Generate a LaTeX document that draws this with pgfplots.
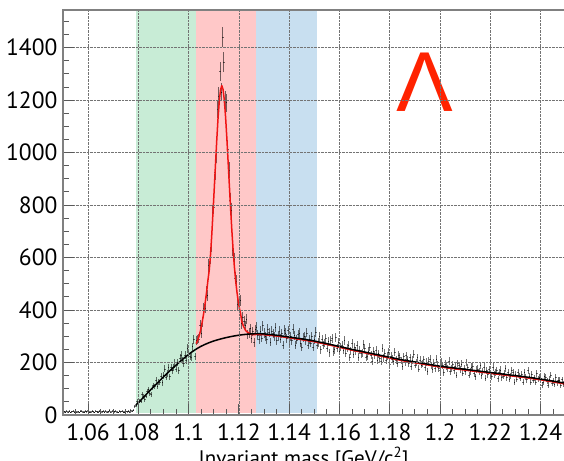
\documentclass[border=0pt]{standalone}
\usepackage{pgfplots}
\usepackage{pgfplotstable}
\usepackage{fontspec}
\pgfplotsset{compat=1.18}
\newfontfamily\ptsans{PT Sans}
\newfontfamily\lsans{Liberation Sans}

\definecolor{bandgreen}{RGB}{200,236,214}
\definecolor{bandred}{RGB}{255,200,200}
\definecolor{bandblue}{RGB}{200,223,240}
\definecolor{fitred}{RGB}{240,20,20}
\definecolor{lamred}{RGB}{255,34,0}

% p pi- invariant mass histogram, 0.5 MeV bins: bin centre, counts
\pgfplotstableread[row sep=\\]{
m n \\
1.0505 13 \\ 1.0510 11 \\ 1.0515 14 \\ 1.0520 12 \\ 1.0525 15 \\ 1.0530 10 \\ 1.0535 13 \\ 1.0540 14 \\
1.0545 11 \\ 1.0550 16 \\ 1.0555 12 \\ 1.0560 13 \\ 1.0565 10 \\ 1.0570 14 \\ 1.0575 15 \\ 1.0580 12 \\
1.0585 11 \\ 1.0590 14 \\ 1.0595 13 \\ 1.0600 17 \\ 1.0605 12 \\ 1.0610 11 \\ 1.0615 14 \\ 1.0620 13 \\
1.0625 10 \\ 1.0630 15 \\ 1.0635 13 \\ 1.0640 12 \\ 1.0645 16 \\ 1.0650 11 \\ 1.0655 13 \\ 1.0660 14 \\
1.0665 12 \\ 1.0670 15 \\ 1.0675 11 \\ 1.0680 13 \\ 1.0685 17 \\ 1.0690 12 \\ 1.0695 14 \\ 1.0700 11 \\
1.0705 13 \\ 1.0710 15 \\ 1.0715 12 \\ 1.0720 10 \\ 1.0725 14 \\ 1.0730 13 \\ 1.0735 16 \\ 1.0740 12 \\
1.0745 11 \\ 1.0750 14 \\ 1.0755 13 \\ 1.0760 15 \\ 1.0765 12 \\ 1.0770 17 \\ 1.0775 14 \\ 1.0780 19 \\
1.0785 32 \\ 1.0790 36 \\ 1.0795 52 \\ 1.0800 39 \\ 1.0805 53 \\ 1.0810 52 \\ 1.0815 77 \\ 1.0820 71 \\
1.0825 59 \\ 1.0830 73 \\ 1.0835 90 \\ 1.0840 98 \\ 1.0845 83 \\ 1.0850 79 \\ 1.0855 105 \\ 1.0860 113 \\
1.0865 109 \\ 1.0870 133 \\ 1.0875 108 \\ 1.0880 127 \\ 1.0885 124 \\ 1.0890 147 \\ 1.0895 123 \\ 1.0900 150 \\
1.0905 176 \\ 1.0910 144 \\ 1.0915 158 \\ 1.0920 180 \\ 1.0925 146 \\ 1.0930 181 \\ 1.0935 170 \\ 1.0940 181 \\
1.0945 201 \\ 1.0950 176 \\ 1.0955 201 \\ 1.0960 170 \\ 1.0965 216 \\ 1.0970 229 \\ 1.0975 207 \\ 1.0980 196 \\
1.0985 228 \\ 1.0990 210 \\ 1.0995 254 \\ 1.1000 234 \\ 1.1005 225 \\ 1.1010 221 \\ 1.1015 260 \\ 1.1020 288 \\
1.1025 223 \\ 1.1030 285 \\ 1.1035 287 \\ 1.1040 290 \\ 1.1045 343 \\ 1.1050 312 \\ 1.1055 355 \\ 1.1060 408 \\
1.1065 407 \\ 1.1070 468 \\ 1.1075 456 \\ 1.1080 570 \\ 1.1085 601 \\ 1.1090 646 \\ 1.1095 773 \\ 1.1100 793 \\
1.1105 925 \\ 1.1110 992 \\ 1.1115 1166 \\ 1.1120 1215 \\ 1.1125 1310 \\ 1.1130 1230 \\ 1.1135 1440 \\ 1.1140 1345 \\
1.1145 1200 \\ 1.1150 1190 \\ 1.1155 1014 \\ 1.1160 932 \\ 1.1165 818 \\ 1.1170 781 \\ 1.1175 629 \\ 1.1180 594 \\
1.1185 521 \\ 1.1190 510 \\ 1.1195 420 \\ 1.1200 426 \\ 1.1205 437 \\ 1.1210 348 \\ 1.1215 372 \\ 1.1220 358 \\
1.1225 340 \\ 1.1230 365 \\ 1.1235 306 \\ 1.1240 312 \\ 1.1245 330 \\ 1.1250 292 \\ 1.1255 318 \\ 1.1260 276 \\
1.1265 326 \\ 1.1270 336 \\ 1.1275 305 \\ 1.1280 287 \\ 1.1285 320 \\ 1.1290 294 \\ 1.1295 340 \\ 1.1300 312 \\
1.1305 298 \\ 1.1310 289 \\ 1.1315 328 \\ 1.1320 314 \\ 1.1325 278 \\ 1.1330 320 \\ 1.1335 310 \\ 1.1340 298 \\
1.1345 334 \\ 1.1350 283 \\ 1.1355 300 \\ 1.1360 320 \\ 1.1365 290 \\ 1.1370 310 \\ 1.1375 267 \\ 1.1380 324 \\
1.1385 313 \\ 1.1390 293 \\ 1.1395 322 \\ 1.1400 278 \\ 1.1405 299 \\ 1.1410 284 \\ 1.1415 328 \\ 1.1420 303 \\
1.1425 267 \\ 1.1430 286 \\ 1.1435 307 \\ 1.1440 312 \\ 1.1445 275 \\ 1.1450 259 \\ 1.1455 294 \\ 1.1460 298 \\
1.1465 284 \\ 1.1470 313 \\ 1.1475 266 \\ 1.1480 287 \\ 1.1485 274 \\ 1.1490 300 \\ 1.1495 259 \\ 1.1500 289 \\
1.1505 316 \\ 1.1510 267 \\ 1.1515 277 \\ 1.1520 300 \\ 1.1525 249 \\ 1.1530 288 \\ 1.1535 267 \\ 1.1540 274 \\
1.1545 291 \\ 1.1550 256 \\ 1.1555 279 \\ 1.1560 237 \\ 1.1565 284 \\ 1.1570 293 \\ 1.1575 242 \\ 1.1580 250 \\
1.1585 297 \\ 1.1590 255 \\ 1.1595 278 \\ 1.1600 243 \\ 1.1605 260 \\ 1.1610 267 \\ 1.1615 247 \\ 1.1620 284 \\
1.1625 235 \\ 1.1630 256 \\ 1.1635 266 \\ 1.1640 219 \\ 1.1645 245 \\ 1.1650 272 \\ 1.1655 233 \\ 1.1660 257 \\
1.1665 245 \\ 1.1670 265 \\ 1.1675 220 \\ 1.1680 247 \\ 1.1685 234 \\ 1.1690 237 \\ 1.1695 269 \\ 1.1700 254 \\
1.1705 220 \\ 1.1710 224 \\ 1.1715 243 \\ 1.1720 259 \\ 1.1725 227 \\ 1.1730 205 \\ 1.1735 244 \\ 1.1740 229 \\
1.1745 248 \\ 1.1750 209 \\ 1.1755 234 \\ 1.1760 216 \\ 1.1765 206 \\ 1.1770 255 \\ 1.1775 218 \\ 1.1780 235 \\
1.1785 208 \\ 1.1790 225 \\ 1.1795 239 \\ 1.1800 195 \\ 1.1805 225 \\ 1.1810 213 \\ 1.1815 205 \\ 1.1820 240 \\
1.1825 209 \\ 1.1830 196 \\ 1.1835 229 \\ 1.1840 221 \\ 1.1845 208 \\ 1.1850 184 \\ 1.1855 222 \\ 1.1860 199 \\
1.1865 226 \\ 1.1870 211 \\ 1.1875 197 \\ 1.1880 219 \\ 1.1885 184 \\ 1.1890 209 \\ 1.1895 233 \\ 1.1900 191 \\
1.1905 200 \\ 1.1910 218 \\ 1.1915 176 \\ 1.1920 209 \\ 1.1925 191 \\ 1.1930 197 \\ 1.1935 212 \\ 1.1940 182 \\
1.1945 202 \\ 1.1950 166 \\ 1.1955 205 \\ 1.1960 213 \\ 1.1965 188 \\ 1.1970 173 \\ 1.1975 198 \\ 1.1980 177 \\
1.1985 213 \\ 1.1990 191 \\ 1.1995 179 \\ 1.2000 171 \\ 1.2005 202 \\ 1.2010 190 \\ 1.2015 162 \\ 1.2020 194 \\
1.2025 187 \\ 1.2030 177 \\ 1.2035 205 \\ 1.2040 165 \\ 1.2045 178 \\ 1.2050 193 \\ 1.2055 170 \\ 1.2060 186 \\
1.2065 153 \\ 1.2070 196 \\ 1.2075 188 \\ 1.2080 173 \\ 1.2085 195 \\ 1.2090 160 \\ 1.2095 177 \\ 1.2100 165 \\
1.2105 199 \\ 1.2110 180 \\ 1.2115 152 \\ 1.2120 166 \\ 1.2125 183 \\ 1.2130 186 \\ 1.2135 158 \\ 1.2140 146 \\
1.2145 172 \\ 1.2150 176 \\ 1.2155 165 \\ 1.2160 188 \\ 1.2165 150 \\ 1.2170 167 \\ 1.2175 183 \\ 1.2180 140 \\
1.2185 170 \\ 1.2190 154 \\ 1.2195 175 \\ 1.2200 159 \\ 1.2205 146 \\ 1.2210 183 \\ 1.2215 155 \\ 1.2220 163 \\
1.2225 169 \\ 1.2230 138 \\ 1.2235 163 \\ 1.2240 172 \\ 1.2245 143 \\ 1.2250 149 \\ 1.2255 158 \\ 1.2260 177 \\
1.2265 143 \\ 1.2270 161 \\ 1.2275 137 \\ 1.2280 149 \\ 1.2285 170 \\ 1.2290 162 \\ 1.2295 126 \\ 1.2300 156 \\
1.2305 137 \\ 1.2310 162 \\ 1.2315 148 \\ 1.2320 141 \\ 1.2325 155 \\ 1.2330 126 \\ 1.2335 162 \\ 1.2340 144 \\
1.2345 135 \\ 1.2350 169 \\ 1.2355 148 \\ 1.2360 126 \\ 1.2365 154 \\ 1.2370 134 \\ 1.2375 142 \\ 1.2380 126 \\
1.2385 158 \\ 1.2390 136 \\ 1.2395 145 \\ 1.2400 141 \\ 1.2405 115 \\ 1.2410 124 \\ 1.2415 148 \\ 1.2420 144 \\
1.2425 128 \\ 1.2430 115 \\ 1.2435 137 \\ 1.2440 152 \\ 1.2445 122 \\ 1.2450 131 \\ 1.2455 116 \\ 1.2460 143 \\
1.2465 123 \\ 1.2470 134 \\ 1.2475 132 \\ 1.2480 114 \\ 1.2485 135 \\ 1.2490 118 \\ 1.2495 125 \\
}\masshist

\begin{document}
\begin{tikzpicture}
% fixed page frame: 564 x 460
\useasboundingbox (0,0) rectangle (564pt,460pt);
\begin{axis}[
  at={(62.9pt,45pt)}, anchor=south west,
  scale only axis, width=502.8pt, height=405pt,
  xmin=1.05, xmax=1.25, ymin=0, ymax=1543,
  xtick={1.06,1.08,1.1,1.12,1.14,1.16,1.18,1.2,1.22,1.24},
  minor xtick={1.055,1.065,1.07,1.075,1.085,1.09,1.095,1.105,1.11,1.115,1.125,1.13,1.135,1.145,1.15,1.155,1.165,1.17,1.175,1.185,1.19,1.195,1.205,1.21,1.215,1.225,1.23,1.235,1.245},
  ytick={0,200,400,600,800,1000,1200,1400},
  minor ytick={50,100,150,250,300,350,450,500,550,650,700,750,850,900,950,1050,1100,1150,1250,1300,1350,1450,1500},
  xtick pos=bottom, ytick pos=left, tick align=inside,
  major tick length=11pt, minor tick length=6pt,
  tick style={draw=black!65, line width=0.8pt},
  axis line style={draw=gray, line width=1.4pt},
  grid=major,
  grid style={draw=black!55, densely dotted, line width=0.6pt},
  scaled ticks=false,
  /pgf/number format/assume math mode=true,
  /pgf/number format/1000 sep={},
  tick label style={font=\ptsans\fontsize{23.5}{24}\selectfont},
  xticklabel style={yshift=-5pt},
  yticklabel style={xshift=-2pt},
  xlabel={Invariant mass [GeV/c\textsuperscript{2}]},
  xlabel style={font=\ptsans\fontsize{21}{21}\selectfont, anchor=base west,
    at={(axis description cs:0.263,0)}, yshift=-50pt},
  axis on top,
]
% sideband and signal windows
\addplot[draw=none, fill=bandgreen] coordinates {(1.079,8) (1.103,8) (1.103,1543) (1.079,1543)} -- cycle;
\addplot[draw=none, fill=bandred]   coordinates {(1.103,8) (1.127,8) (1.127,1543) (1.103,1543)} -- cycle;
\addplot[draw=none, fill=bandblue]  coordinates {(1.127,8) (1.151,8) (1.151,1543) (1.127,1543)} -- cycle;

% data with Poisson errors
\addplot[draw=none, mark=none, forget plot,
  error bars/.cd, x dir=both, x fixed=0.00025, y dir=both, y explicit,
  error mark=none,
  error bar style={draw=black, opacity=0.55, line width=0.6pt}]
  table[x=m, y=n, y error expr={sqrt(\thisrow{n})}] {\masshist};

% signal + background fit
\addplot[fitred, line width=1.5pt, line join=round] coordinates {
(1.1030,272)(1.1037,287)(1.1042,302)(1.1047,320)(1.1052,343)(1.1057,370)(1.1062,399)
(1.1067,435)(1.1072,472)(1.1077,514)(1.1082,551)(1.1087,608)(1.1092,684)(1.1097,771)
(1.1102,862)(1.1107,956)(1.1112,1047)(1.1117,1129)(1.1122,1195)(1.1127,1239)(1.1132,1255)
(1.1137,1241)(1.1142,1200)(1.1147,1137)(1.1152,1057)(1.1157,968)(1.1162,877)(1.1167,788)
(1.1172,704)(1.1177,630)(1.1182,566)(1.1187,514)(1.1192,471)(1.1197,436)(1.1202,407)
(1.1207,385)(1.1212,355)(1.1217,341)(1.1222,331)(1.1227,322)(1.1232,317)(1.1242,311)
(1.1252,306)(1.1275,307)(1.1300,306)(1.1325,303.5)(1.1350,301)(1.1375,297.5)(1.1400,294)
(1.1425,290.5)(1.1450,287)(1.1475,283)(1.1500,279)(1.1525,274)(1.1550,269)(1.1575,263.5)
(1.1600,258)(1.1625,252.5)(1.1650,247)(1.1675,242)(1.1700,237)(1.1725,232)(1.1750,227)
(1.1775,222)(1.1800,217)(1.1825,212)(1.1850,207)(1.1875,203)(1.1900,199)(1.1925,195)
(1.1950,191)(1.1975,187)(1.2000,183)(1.2025,180)(1.2050,177)(1.2075,174)(1.2100,171)
(1.2125,168)(1.2150,165)(1.2175,162)(1.2200,159)(1.2225,156)(1.2250,153)(1.2275,150)
(1.2300,147)(1.2325,144)(1.2350,141)(1.2375,137.5)(1.2400,134)(1.2425,130)(1.2450,126)
(1.2475,122)(1.2500,118)};

% background fit
\addplot[black, line width=1.5pt, smooth] coordinates {
(1.0790,38)(1.0800,47)(1.0825,72)(1.0850,97)(1.0875,121)(1.0900,145)(1.0925,168)
(1.0950,190)(1.0975,211)(1.1000,231)(1.1025,248)(1.1050,262)(1.1075,273)(1.1100,282)
(1.1125,289)(1.1150,295)(1.1175,300)(1.1200,304)(1.1225,307)(1.1250,309)(1.1275,310)
(1.1300,309)(1.1325,306.5)(1.1350,304)(1.1375,300.5)(1.1400,297)(1.1425,293.5)(1.1450,290)
(1.1475,286)(1.1500,282)(1.1525,277)(1.1550,272)(1.1575,266.5)(1.1600,261)(1.1625,255.5)
(1.1650,250)(1.1675,245)(1.1700,240)(1.1725,235)(1.1750,230)(1.1775,225)(1.1800,220)
(1.1825,215)(1.1850,210)(1.1875,206)(1.1900,202)(1.1925,198)(1.1950,194)(1.1975,190)
(1.2000,186)(1.2025,183)(1.2050,180)(1.2075,177)(1.2100,174)(1.2125,171)(1.2150,168)
(1.2175,165)(1.2200,162)(1.2225,159)(1.2250,156)(1.2275,153)(1.2300,150)(1.2325,147)
(1.2350,144)(1.2375,140.5)(1.2400,137)(1.2425,133)(1.2450,129)(1.2475,125)(1.2500,121)};

\node[anchor=base, text=lamred, font=\lsans\fontsize{85}{85}\selectfont]
  at (axis cs:1.194,1158) {Λ};
\end{axis}
\end{tikzpicture}
\end{document}
